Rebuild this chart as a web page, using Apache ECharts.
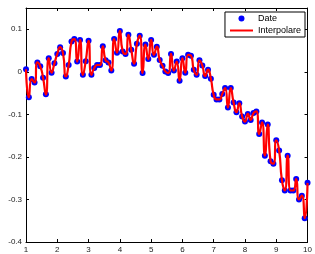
<!DOCTYPE html>
<html>
<head>
<meta charset="utf-8">
<script src="https://cdn.jsdelivr.net/npm/echarts@6/dist/echarts.min.js"></script>
<style>
  html, body { margin: 0; padding: 0; background: #fff; }
  #chart { width: 315px; height: 254px; }
</style>
</head>
<body>
<div id="chart"></div>
<script>
// sample positions (100 points from 1 to 10)
const xValues = [
    1.000, 1.091, 1.182, 1.273, 1.364, 1.455, 1.545, 1.636, 1.727, 1.818, 1.909,
    2.000, 2.091, 2.182, 2.273, 2.364, 2.455, 2.545, 2.636, 2.727, 2.818, 2.909,
    3.000, 3.091, 3.182, 3.273, 3.364, 3.455, 3.545, 3.636, 3.727, 3.818, 3.909,
    4.000, 4.091, 4.182, 4.273, 4.364, 4.455, 4.545, 4.636, 4.727, 4.818, 4.909,
    5.000, 5.091, 5.182, 5.273, 5.364, 5.455, 5.545, 5.636, 5.727, 5.818, 5.909,
    6.000, 6.091, 6.182, 6.273, 6.364, 6.455, 6.545, 6.636, 6.727, 6.818, 6.909,
    7.000, 7.091, 7.182, 7.273, 7.364, 7.455, 7.545, 7.636, 7.727, 7.818, 7.909,
    8.000, 8.091, 8.182, 8.273, 8.364, 8.455, 8.545, 8.636, 8.727, 8.818, 8.909,
    9.000, 9.091, 9.182, 9.273, 9.364, 9.455, 9.545, 9.636, 9.727, 9.818, 9.909,
    10.000
];

// measured values ("Date")
const yValues = [
    0.006, -0.060, -0.017, -0.025, 0.022, 0.013, -0.014, -0.053, 0.032, -0.002,
    0.020, 0.042, 0.058, 0.044, -0.011, 0.016, 0.071, 0.077, 0.024, 0.075,
    -0.007, 0.025, 0.073, -0.007, 0.009, 0.016, 0.016, 0.060, 0.027, 0.022,
    0.003, 0.077, 0.045, 0.096, 0.048, 0.042, 0.087, 0.052, 0.019, 0.066,
    0.085, -0.003, 0.064, 0.030, 0.075, 0.040, 0.059, 0.028, 0.014, 0.001,
    -0.003, 0.042, 0.003, 0.024, -0.021, 0.032, -0.002, 0.040, 0.038, 0.005,
    -0.007, 0.027, 0.015, -0.010, 0.005, -0.016, -0.054, -0.065, -0.065, -0.052,
    -0.038, -0.084, -0.038, -0.072, -0.095, -0.074, -0.105, -0.117, -0.099, -0.113,
    -0.097, -0.093, -0.146, -0.119, -0.197, -0.124, -0.210, -0.216, -0.161, -0.185,
    -0.255, -0.279, -0.197, -0.279, -0.279, -0.252, -0.300, -0.291, -0.344, -0.261
];

const xTicks = [1, 2, 3, 4, 5, 6, 7, 8, 9, 10];
const yTicks = [-0.4, -0.3, -0.2, -0.1, 0, 0.1];
const seriesNames = ['Date', 'Interpolare'];

const points = xValues.map((x, i) => [x, yValues[i]]);

const chart = echarts.init(document.getElementById('chart'));

const labelFont = { fontFamily: 'Liberation Sans, Arial, sans-serif', fontSize: 8, color: '#1a1a1a' };

// shared axis look: black line, inward ticks, no grid lines
function boxAxis(extra) {
    return Object.assign({
        type: 'value',
        axisLine: { show: true, onZero: false, lineStyle: { color: '#000', width: 1 } },
        axisTick: { show: true, inside: true, length: 3, lineStyle: { color: '#000' } },
        splitLine: { show: false }
    }, extra);
}

// plain horizontal bar for the line legend entry (the M points fix the box to 23x6)
const lineIcon = 'path://M0,0 M23,6 M0,2 L23,2 L23,4 L0,4 Z';

const options = {
    animation: false,
    backgroundColor: '#fff',
    grid: { left: 26, right: 4, top: 8, bottom: 12 },
    xAxis: [
        boxAxis({
            position: 'bottom', min: 1, max: 10, interval: 1,
            axisLabel: Object.assign({ margin: 4, formatter: v => xTicks.includes(v) ? String(v) : '' }, labelFont)
        }),
        boxAxis({ position: 'top', min: 1, max: 10, interval: 1, axisLabel: { show: false } })
    ],
    yAxis: [
        boxAxis({
            position: 'left', min: -0.4, max: 0.15, interval: 0.1,
            axisLabel: Object.assign({
                margin: 4, showMaxLabel: false,
                formatter: v => {
                    const t = yTicks.find(k => Math.abs(k - v) < 1e-9);
                    return t === undefined ? '' : String(t);
                }
            }, labelFont)
        }),
        boxAxis({ position: 'right', min: -0.4, max: 0.15, interval: 0.1, axisLabel: { show: false } })
    ],
    legend: {
        orient: 'vertical',
        right: 10,
        top: 12,
        padding: [2, 4, 2, 5],
        itemGap: 3,
        itemWidth: 23,
        itemHeight: 6,
        borderColor: '#000',
        borderWidth: 1,
        backgroundColor: '#fff',
        textStyle: { fontFamily: 'Liberation Sans, Arial, sans-serif', fontSize: 9, color: '#000' },
        data: [
            { name: seriesNames[0], icon: 'circle' },
            { name: seriesNames[1], icon: lineIcon }
        ]
    },
    series: [
        {
            name: seriesNames[0],
            type: 'scatter',
            data: points,
            symbol: 'circle',
            symbolSize: 6,
            itemStyle: { color: '#0000ff', opacity: 1 },
            z: 2
        },
        {
            name: seriesNames[1],
            type: 'line',
            data: points,
            smooth: 0.6,
            symbol: 'none',
            lineStyle: { color: '#ff0000', width: 2.2 },
            itemStyle: { color: '#ff0000' },
            z: 3
        }
    ]
};

chart.setOption(options);
</script>
</body>
</html>
